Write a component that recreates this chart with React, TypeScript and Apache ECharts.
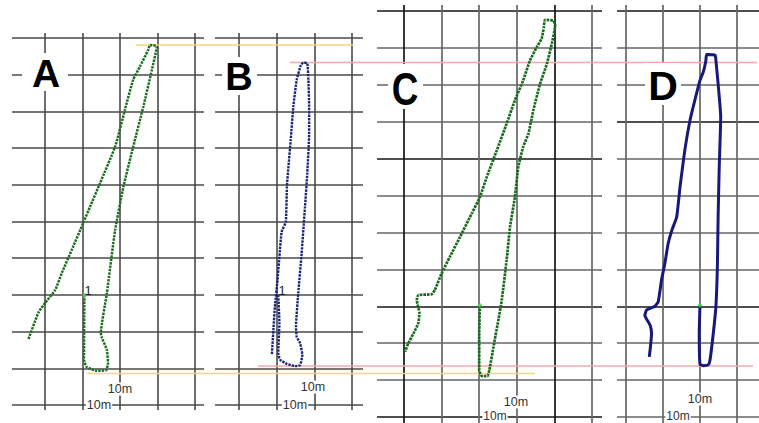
import React, { useEffect, useRef } from "react";
import * as echarts from "echarts";

// Track points in metres (one grid cell = 10 m), x east, y north
const TRACK_A: number[][] = [
  [10.5, 30.0], [10.4, 12.3], [11.1, 10.4], [13.8, 9.3], [16.3, 9.5], [16.8, 11.4], [16.5, 15.0],
  [15.1, 18.5], [14.9, 19.6], [16.5, 30.5], [18.7, 47.7], [20.9, 59.4], [23.5, 70.3], [26.2, 81.2],
  [28.5, 91.3], [29.8, 97.7], [28.0, 98.1], [27.5, 96.7], [25.3, 92.2], [23.5, 88.6], [21.3, 80.4],
  [18.7, 70.4], [14.7, 60.5], [12.0, 54.0], [10.2, 49.6], [7.1, 42.2], [4.5, 36.0], [2.7, 31.3],
  [0.0, 27.8], [-1.8, 25.1], [-4.5, 17.7],
];
const TRACK_B: number[][] = [
  [10.4, 30.0], [10.7, 22.3], [10.4, 14.1], [10.9, 12.3], [12.7, 11.2], [14.9, 10.6], [16.2, 10.9],
  [16.8, 13.6], [16.2, 16.8], [15.3, 18.6], [15.1, 21.3], [15.7, 30.4], [16.6, 41.3], [17.5, 54.0],
  [18.1, 63.1], [18.6, 74.0], [18.6, 81.3], [18.4, 88.6], [18.1, 93.1], [17.1, 93.3], [16.4, 92.6],
  [15.3, 88.6], [14.4, 81.3], [13.7, 72.2], [13.1, 64.9], [12.7, 59.5], [12.4, 49.9], [11.3, 47.2],
  [10.7, 40.4], [10.2, 34.1], [9.5, 26.8], [9.1, 20.4], [8.7, 13.6],
];
const TRACK_C: number[][] = [
  [20.2, 30.3], [20.0, 22.7], [20.0, 12.7], [20.7, 11.1], [22.2, 11.1], [22.7, 12.7], [23.8, 19.0],
  [25.1, 26.3], [26.0, 31.7], [27.3, 42.5], [28.2, 51.5], [29.5, 59.6], [30.4, 67.7], [31.7, 73.2],
  [33.1, 76.8], [34.4, 83.1], [36.2, 90.3], [38.0, 95.7], [39.3, 101.1], [40.2, 106.1], [39.7, 107.4],
  [37.5, 107.6], [37.2, 105.6], [36.6, 102.5], [35.3, 100.2], [33.5, 96.6], [31.7, 91.2], [29.5, 85.8],
  [27.3, 79.5], [24.7, 72.3], [22.0, 65.0], [20.2, 59.6], [18.0, 55.1], [14.9, 48.8], [12.2, 43.4],
  [10.0, 38.9], [8.2, 34.4], [7.4, 33.3], [3.8, 33.0], [3.4, 31.7], [4.1, 28.1], [3.8, 25.4],
  [2.5, 22.6], [1.1, 19.9], [0.3, 17.7],
];
const TRACK_D: number[][] = [
  [20.0, 30.3], [19.8, 22.7], [20.0, 14.3], [20.9, 13.9], [22.2, 14.1], [22.7, 15.4], [23.6, 22.7],
  [24.3, 29.9], [24.7, 40.7], [24.9, 54.2], [25.2, 67.7], [25.6, 81.3], [24.9, 90.3], [24.3, 96.6],
  [24.1, 98.0], [21.8, 98.2], [21.6, 96.6], [20.9, 93.5], [20.0, 91.2], [18.6, 85.8], [17.3, 80.4],
  [15.9, 72.3], [14.6, 62.3], [13.7, 54.2], [12.4, 50.6], [11.4, 47.0], [10.5, 41.6], [9.6, 37.1],
  [8.7, 31.2], [7.8, 30.0], [5.6, 29.0], [5.1, 27.6], [6.5, 24.9], [6.9, 22.7], [6.7, 19.9],
  [6.3, 16.3],
];

// Comparison guide lines (page overlay units)
const GUIDE_YELLOW_TOP: number[][] = [[136, 45], [353, 45]];
const GUIDE_YELLOW_BOTTOM: number[][] = [[87, 373.5], [535, 373.5]];
const GUIDE_PINK_TOP: number[][] = [[290, 62.5], [757, 62.5]];
const GUIDE_PINK_BOTTOM: number[][] = [[258, 366], [753, 366]];

const PANEL_LABELS = ["A", "B", "C", "D"];
const SCALE_LABEL = "10m";
const START_LABEL = "1";

const G = "#4a4a4a";
const K = "#151515";
const L = "#666666";
const C_H_COLORS = [K, L, L, K, L, L, L, K, L, L, L, K];
const D_H_COLORS = [L, L, L, K, L, L, L, L, K, L, L, K];
const C_V_COLORS = [K, L, L, L, K, L];

function hidden(gridIndex: number, min: number, max: number, extra: any = {}) {
  return {
    type: "value",
    gridIndex,
    min,
    max,
    axisLine: { show: false },
    axisTick: { show: false },
    axisLabel: { show: false },
    splitLine: { show: false },
    ...extra,
  };
}

function lines(color: any, width = 1.6) {
  return { interval: 10, splitLine: { show: true, lineStyle: { color, width } } };
}

export default function App() {
  const ref = useRef<HTMLDivElement>(null);
  useEffect(() => {
    if (!ref.current) return;
    const chart = echarts.init(ref.current, undefined, { renderer: "svg" });
    const grid = [
      { left: 0, top: 0, width: 759, height: 423 },
      { left: 12, top: 38, width: 192, height: 367 },
      { left: 45, top: 33, width: 150, height: 377 },
      { left: 215, top: 38, width: 148, height: 367 },
      { left: 239, top: 33, width: 113, height: 377 },
      { left: 377, top: 11, width: 225, height: 406 },
      { left: 404, top: 5, width: 188, height: 418 },
      { left: 617, top: 11, width: 142, height: 406 },
      { left: 626, top: 5, width: 111, height: 418 },
    ];
    const xAxis = [
      hidden(0, 0, 759),
      hidden(1, -8.8, 42.4),
      hidden(2, 0, 40, lines(G)),
      hidden(3, -6.4, 32.9),
      hidden(4, 0, 30, lines(G)),
      hidden(5, -7.18, 52.66),
      hidden(6, 0, 50, lines(C_V_COLORS, 1.7)),
      hidden(7, -2.43, 35.95),
      hidden(8, 0, 30, lines(L, 1.7)),
    ];
    const yAxis = [
      hidden(0, 0, 423, { inverse: true }),
      hidden(1, 0, 100, lines(G)),
      hidden(2, 0, 1),
      hidden(3, 0, 100, lines(G)),
      hidden(4, 0, 1),
      hidden(5, 0, 110, lines(C_H_COLORS, 1.7)),
      hidden(6, 0, 1),
      hidden(7, 0, 110, lines(D_H_COLORS, 1.7)),
      hidden(8, 0, 1),
    ];
    const guide = (data: number[][], color: string) => ({
      type: "line",
      xAxisIndex: 0,
      yAxisIndex: 0,
      data,
      symbol: "none",
      silent: true,
      z: 5,
      lineStyle: { color, width: 1.6 },
    });
    const track = (idx: number, data: number[][], color: string, width: number, type: any) => ({
      type: "line",
      xAxisIndex: idx,
      yAxisIndex: idx,
      data,
      symbol: "none",
      smooth: 0.15,
      z: 6,
      lineStyle: { color, width, type },
    });
    const start = (idx: number, data: number[][], color: string) => ({
      type: "scatter",
      xAxisIndex: idx,
      yAxisIndex: idx,
      data: [data[0]],
      symbolSize: 4,
      z: 7,
      itemStyle: { color },
    });
    const series = [
      guide(GUIDE_YELLOW_TOP, "#f6d57a"),
      guide(GUIDE_YELLOW_BOTTOM, "#f6d57a"),
      guide(GUIDE_PINK_TOP, "#f3a9ab"),
      guide(GUIDE_PINK_BOTTOM, "#f3a9ab"),
      track(1, TRACK_A, "#1c6d20", 2.5, [2.4, 1]),
      track(3, TRACK_B, "#1a2378", 2.4, [2.4, 1]),
      track(5, TRACK_C, "#1a6a1e", 2.7, [2.6, 0.9]),
      track(7, TRACK_D, "#16197a", 3, "solid"),
      start(1, TRACK_A, "#5fd35f"),
      start(5, TRACK_C, "#3fe03f"),
      start(7, TRACK_D, "#3fe03f"),
    ];
    const letterFont = (size: number) => `bold ${size}px "Liberation Sans", Arial, sans-serif`;
    const letter = (text: string, x: number, y: number, size: number, box: number[], scaleX = 1) => [
      { type: "rect", z: 100, shape: { x: box[0], y: box[1], width: box[2], height: box[3] }, style: { fill: "#fff" } },
      {
        type: "text",
        z: 101,
        x,
        y,
        scaleX,
        style: {
          text,
          font: letterFont(size),
          fill: "#000",
          textAlign: "center",
          textVerticalAlign: "middle",
          align: "center",
          verticalAlign: "middle",
        },
      },
    ];
    const small = (text: string, x: number, y: number, size = 12.5) => ({
      type: "text",
      z: 102,
      x,
      y,
      style: {
        text,
        font: `${size}px "Liberation Sans", Arial, sans-serif`,
        fill: "#333",
        backgroundColor: "#fff",
        padding: [0, 1],
        textAlign: "center",
        textVerticalAlign: "middle",
        align: "center",
        verticalAlign: "middle",
      },
    });
    const graphic = [
      ...letter(PANEL_LABELS[0], 46, 73, 39, [22, 53, 46, 38]),
      ...letter(PANEL_LABELS[1], 239, 77, 38, [222, 57, 35, 38]),
      ...letter(PANEL_LABELS[2], 405, 89, 46, [388, 64, 35, 45], 0.8),
      ...letter(PANEL_LABELS[3], 663, 86, 41, [645, 63, 36, 42]),
      small(SCALE_LABEL, 120, 389),
      small(SCALE_LABEL, 99, 405),
      small(SCALE_LABEL, 313, 387),
      small(SCALE_LABEL, 295, 405),
      small(SCALE_LABEL, 516, 402),
      small(SCALE_LABEL, 495, 416, 12),
      small(SCALE_LABEL, 700, 399),
      small(SCALE_LABEL, 678, 416, 12),
      { type: "text", z: 102, x: 88, y: 290, style: { text: START_LABEL, font: '13px "Liberation Sans", Arial', fill: "#222", textAlign: "center", textVerticalAlign: "middle", align: "center", verticalAlign: "middle" } },
      { type: "text", z: 102, x: 282, y: 290, style: { text: START_LABEL, font: '13px "Liberation Sans", Arial', fill: "#222", textAlign: "center", textVerticalAlign: "middle", align: "center", verticalAlign: "middle" } },
    ];
    chart.setOption({
      animation: false,
      backgroundColor: "#fff",
      grid,
      xAxis,
      yAxis,
      series,
      graphic,
    } as any);
    return () => chart.dispose();
  }, []);
  return (
    <div
      ref={ref}
      style={{ position: "fixed", left: 0, top: 0, width: 759, height: 423, background: "#fff" }}
    />
  );
}
